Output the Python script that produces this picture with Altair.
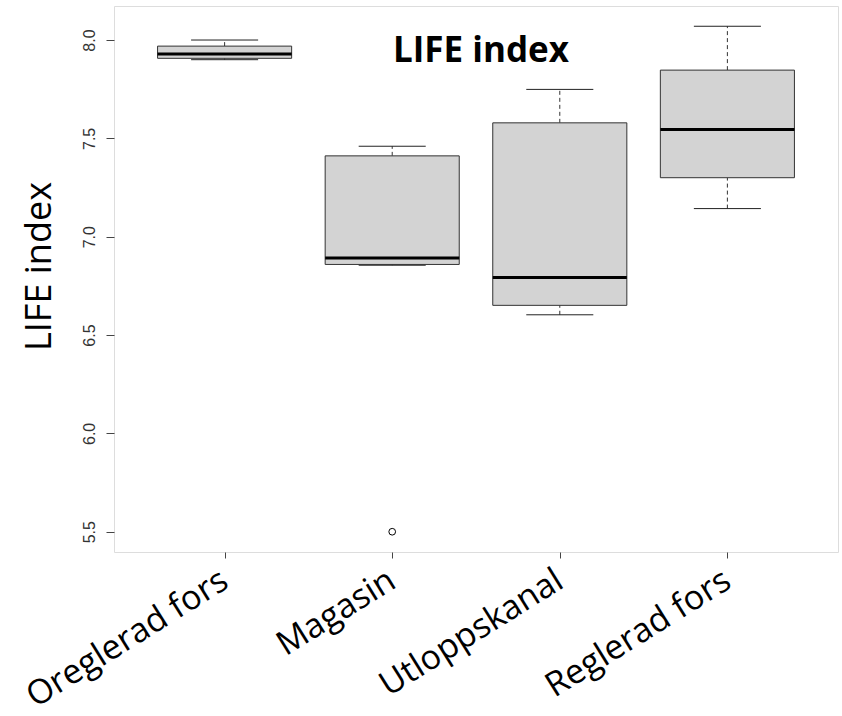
import altair as alt
import pandas as pd

# ---- data ----
categories = ["Oreglerad fors", "Magasin", "Utloppskanal", "Reglerad fors"]
lower_whisker = [7.900, 6.855, 6.603, 7.143]
q1 = [7.907, 6.859, 6.651, 7.300]
median = [7.929, 6.892, 6.792, 7.545]
q3 = [7.969, 7.411, 7.579, 7.847]
upper_whisker = [8.000, 7.460, 7.749, 8.070]

outlier_category = ["Magasin"]
outlier_value = [5.50]

y_ticks = [5.5, 6.0, 6.5, 7.0, 7.5, 8.0]
title_text = ["LIFE index"]

box_df = pd.DataFrame({
    "cat": categories,
    "pos": list(range(1, len(categories) + 1)),
    "lo": lower_whisker,
    "q1": q1,
    "med": median,
    "q3": q3,
    "hi": upper_whisker,
})
out_df = pd.DataFrame({
    "cat": outlier_category,
    "pos": [categories.index(c) + 1 for c in outlier_category],
    "value": outlier_value,
})
title_df = pd.DataFrame({"t": title_text})

label_array = "[" + ",".join("'" + c + "'" for c in categories) + "]"

x_scale = alt.Scale(domain=[0.34, 4.66], nice=False, zero=False)
y_scale = alt.Scale(domain=[5.397, 8.173], nice=False, zero=False)

x_axis = alt.Axis(
    values=[1, 2, 3, 4],
    labelExpr=label_array + "[datum.value - 1]",
    labelAngle=-32,
    labelAlign="right",
    labelBaseline="top",
    labelFont="Open Sans",
    labelFontSize=34,
    labelColor="black",
    labelPadding=5,
    labelOffset=-9,
    labelLimit=500,
    labelOverlap=False,
    labelFlush=False,
    tickSize=6,
    tickColor="#444",
    domain=False,
    grid=False,
    title=None,
)
y_axis = alt.Axis(
    values=y_ticks,
    format=".1f",
    labelAngle=270,
    labelAlign="center",
    labelBaseline="bottom",
    labelFont="Liberation Sans",
    labelFontSize=16,
    labelColor="#333",
    labelPadding=9,
    labelOverlap=False,
    labelFlush=False,
    tickSize=8,
    tickColor="#444",
    domain=False,
    grid=False,
    title="LIFE index",
    titleFont="Open Sans",
    titleFontSize=36,
    titleFontWeight="normal",
    titleColor="black",
    titleAngle=270,
    titleAlign="center",
    titleBaseline="alphabetic",
    titleX=-64,
    titleY=260,
)


def X(field):
    return alt.X(field, type="quantitative", scale=x_scale, axis=x_axis)


def Y(field):
    return alt.Y(field, type="quantitative", scale=y_scale, axis=y_axis)


base = alt.Chart(box_df).transform_calculate(
    boxL="datum.pos - 0.4",
    boxR="datum.pos + 0.4",
    capL="datum.pos - 0.2",
    capR="datum.pos + 0.2",
)

whisk_up = base.mark_rule(color="#333", strokeDash=[4, 3], strokeWidth=1).encode(
    x=X("pos"), y=Y("q3"), y2="hi"
)
whisk_dn = base.mark_rule(color="#333", strokeDash=[4, 3], strokeWidth=1).encode(
    x=X("pos"), y=Y("lo"), y2="q1"
)
cap_up = base.mark_rule(color="#222", strokeWidth=1).encode(
    x=X("capL"), x2="capR", y=Y("hi")
)
cap_dn = base.mark_rule(color="#222", strokeWidth=1).encode(
    x=X("capL"), x2="capR", y=Y("lo")
)
boxes = base.mark_rect(fill="#d3d3d3", stroke="#333", strokeWidth=1).encode(
    x=X("boxL"), x2="boxR", y=Y("q1"), y2="q3"
)
medians = base.mark_rule(color="black", strokeWidth=3).encode(
    x=X("boxL"), x2="boxR", y=Y("med")
)
outliers = alt.Chart(out_df).mark_point(
    shape="circle", filled=False, color="black", size=45, strokeWidth=1, opacity=1
).encode(x=X("pos"), y=Y("value"))

title_mark = alt.Chart(title_df).mark_text(
    font="Open Sans", fontSize=35, fontWeight="bold", color="black",
    align="center", baseline="alphabetic",
).encode(
    text="t:N", x=alt.value(367), y=alt.value(56)
)

chart = alt.layer(
    whisk_up, whisk_dn, cap_up, cap_dn, boxes, medians, outliers, title_mark
).properties(
    width=724,
    height=546,
    autosize=alt.AutoSizeParams(type="none"),
    padding={"left": 114, "top": 6, "right": 4, "bottom": 164},
).configure_view(
    stroke="#444", strokeWidth=1
).configure(
    background="white"
)

chart.save("out.html", embed_options={"renderer": "svg", "actions": False})
